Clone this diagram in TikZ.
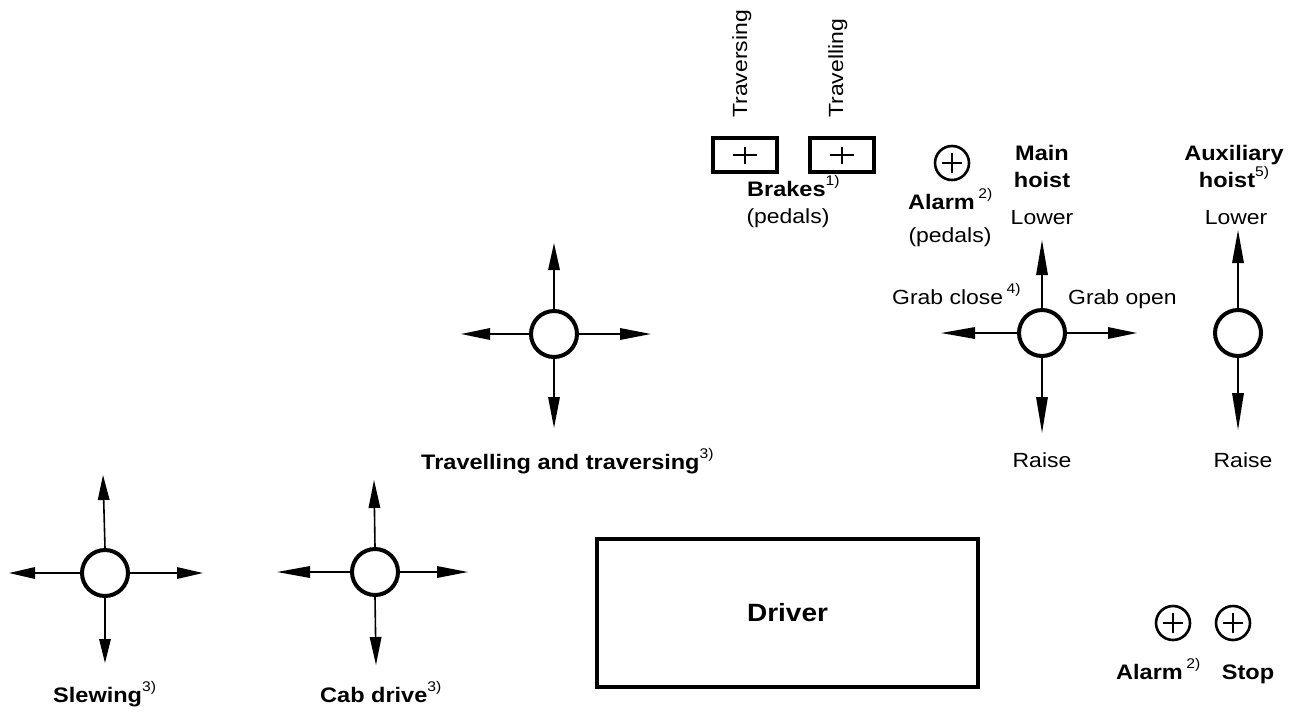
\documentclass[tikz,border=0pt]{standalone}
\usepackage{fontspec}
\setmainfont{Liberation Sans}[FakeStretch=1.12]
\usetikzlibrary{arrows.meta}
\newcommand\lbfont{\fontsize{20.5}{23}\selectfont}
\newcommand\bflbfont{\fontsize{21}{24}\selectfont\bfseries}
\newcommand\supx[1]{\raisebox{0.5em}{\mdseries\fontsize{14}{15}\selectfont #1}}
\tikzset{
 stick/.style={circle, draw, line width=4pt, minimum size=46pt, inner sep=0pt},
 btn/.style={circle, draw, line width=2.6pt, minimum size=34pt, inner sep=0pt},
 pedal/.style={draw, line width=3.2pt, minimum width=64pt, minimum height=34pt, inner sep=0pt},
 dir/.style={line width=1.6pt, -{Triangle[length=#1,width=11.5pt]}},
 dir/.default=30pt,
 plusline/.style={line width=1.4pt},
 lbl/.style={font=\lbfont, inner sep=0pt},
 blbl/.style={font=\bflbfont, inner sep=0pt},
 drvbox/.style={draw, line width=3.5pt, minimum width=381pt, minimum height=148pt, inner sep=0pt, font=\fontsize{25}{28}\selectfont\bfseries},
}
\begin{document}
\begin{tikzpicture}[x=1pt,y=-1pt]
\useasboundingbox[fill=white] (0,0) rectangle (1300,713);

% ---------- Brakes ----------
\node[lbl, rotate=90, anchor=base west] (trvs) at (747,118) {Traversing};
\node[lbl, rotate=90, anchor=base west] (trvl) at (843,118) {Travelling};
\node[pedal] (b1) at (745,155) {};
\node[pedal] (b2) at (842,155) {};
\foreach \b in {b1,b2}{
 \draw[plusline] ([xshift=-12pt]\b.center) -- ([xshift=12pt]\b.center);
 \draw[plusline] ([yshift=-8.5pt]\b.center) -- ([yshift=8.5pt]\b.center);
}
\node[blbl, anchor=base west] (brk) at (747,196) {Brakes\supx{1)}};
\node[lbl, anchor=base] (brkp) at (788,223) {(pedals)};

% ---------- Alarm pedal ----------
\node[btn] (alp) at (952,163) {};
\draw[plusline] ([xshift=-10pt]alp.center) -- ([xshift=10pt]alp.center);
\draw[plusline] ([yshift=-10pt]alp.center) -- ([yshift=10pt]alp.center);
\node[blbl, anchor=base west] (alpl) at (908,209) {Alarm\,\supx{2)}};
\node[lbl, anchor=base] (alpp) at (950,242) {(pedals)};

% ---------- Main hoist ----------
\node[blbl, anchor=base] (mh1) at (1042,160) {Main};
\node[blbl, anchor=base] (mh2) at (1042,187) {hoist};
\node[lbl, anchor=base] (mhl) at (1042,224) {Lower};
\node[stick] (mh) at (1042,333) {};
\coordinate (mhU) at (1042,240);
\coordinate (mhD) at (1042,433);
\coordinate (mhL) at (941,333);
\coordinate (mhR) at (1137,333);
\draw[dir=35pt] (mh.north) -- (mhU);
\draw[dir=36pt] (mh.south) -- (mhD);
\draw[dir=34pt] (mh.west) -- (mhL);
\draw[dir=29pt] (mh.east) -- (mhR);
\node[lbl, anchor=base west] (gc) at (892,304) {Grab close\,\supx{4)}};
\node[lbl, anchor=base west] (go) at (1068,304) {Grab open};
\node[lbl, anchor=base] (mhr) at (1042,467) {Raise};

% ---------- Auxiliary hoist ----------
\node[blbl, anchor=base] (ah1) at (1234,160) {Auxiliary};
\node[blbl, anchor=base] (ah2) at (1234,187) {hoist\supx{5)}};
\node[lbl, anchor=base] (ahl) at (1236,224) {Lower};
\node[stick] (ah) at (1238,333) {};
\coordinate (ahU) at (1238,230);
\coordinate (ahD) at (1238,430);
\draw[dir=33pt] (ah.north) -- (ahU);
\draw[dir=37pt] (ah.south) -- (ahD);
\node[lbl, anchor=base] (ahr) at (1243,467) {Raise};

% ---------- Travelling and traversing ----------
\node[stick] (tt) at (554,334) {};
\coordinate (ttU) at (554,243);
\coordinate (ttD) at (554,428);
\coordinate (ttL) at (461,334);
\coordinate (ttR) at (651,334);
\draw[dir=27pt] (tt.north) -- (ttU);
\draw[dir=31pt] (tt.south) -- (ttD);
\draw[dir=29pt] (tt.west) -- (ttL);
\draw[dir=31pt] (tt.east) -- (ttR);
\node[blbl, anchor=base west] (ttl) at (421,469) {Travelling and traversing\supx{3)}};

% ---------- Slewing ----------
\node[stick] (sl) at (105,573) {};
\coordinate (slU) at (103,475);
\coordinate (slD) at (105,663);
\coordinate (slL) at (9,573);
\coordinate (slR) at (203,573);
\draw[dir=25pt] (sl.north) -- (slU);
\draw[dir=24pt] (sl.south) -- (slD);
\draw[dir=26pt] (sl.west) -- (slL);
\draw[dir=26pt] (sl.east) -- (slR);
\node[blbl, anchor=base west] (sll) at (53,702) {Slewing\supx{3)}};

% ---------- Cab drive ----------
\node[stick] (cd) at (375,572) {};
\coordinate (cdU) at (374,480);
\coordinate (cdD) at (376,665);
\coordinate (cdL) at (277,572);
\coordinate (cdR) at (468,572);
\draw[dir=28pt] (cd.north) -- (cdU);
\draw[dir=28pt] (cd.south) -- (cdD);
\draw[dir=33pt] (cd.west) -- (cdL);
\draw[dir=31pt] (cd.east) -- (cdR);
\node[blbl, anchor=base west] (cdl) at (320,702) {Cab drive\supx{3)}};

% ---------- Driver ----------
\node[drvbox] (drv) at (787.5,613) {Driver};

% ---------- Alarm / Stop ----------
\node[btn] (al) at (1173,623) {};
\node[btn] (st) at (1233,623) {};
\foreach \b in {al,st}{
 \draw[plusline] ([xshift=-10pt]\b.center) -- ([xshift=10pt]\b.center);
 \draw[plusline] ([yshift=-10pt]\b.center) -- ([yshift=10pt]\b.center);
}
\node[blbl, anchor=base west] (all) at (1116,679) {Alarm\,\supx{2)}};
\node[blbl, anchor=base] (stl) at (1248,679) {Stop};
\end{tikzpicture}
\end{document}
